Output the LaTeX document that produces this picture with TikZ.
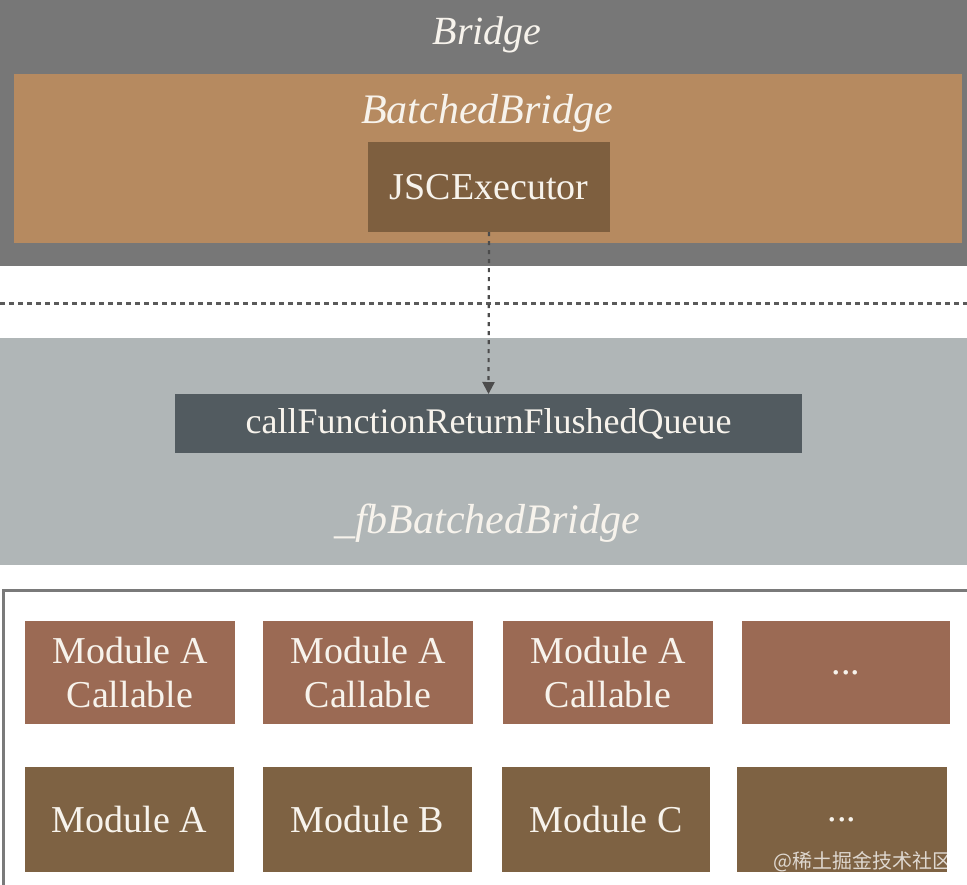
\documentclass[tikz,border=0pt]{standalone}
\usepackage{fontspec}
\setmainfont{Liberation Serif}
\newfontfamily\cjk{Noto Sans CJK SC}
\usetikzlibrary{arrows.meta}
\definecolor{bridgegray}{HTML}{777777}
\definecolor{batchorange}{HTML}{B68A60}
\definecolor{jscbrown}{HTML}{7E5F3F}
\definecolor{fbgray}{HTML}{B0B6B7}
\definecolor{cfslate}{HTML}{525B60}
\definecolor{callbrown}{HTML}{9B6A54}
\definecolor{modbrown}{HTML}{7E6243}
\definecolor{framegray}{HTML}{7A7A7A}
\definecolor{txtwhite}{HTML}{F7F3EC}
\definecolor{linegray}{HTML}{5A5A5A}
\begin{document}
\begin{tikzpicture}[x=1pt,y=-1pt,
  every node/.style={inner sep=0pt, outer sep=0pt},
  panel/.style={rectangle, anchor=north west, draw=none},
  lbl/.style={text=txtwhite, align=center},
  bigital/.style={lbl, font=\fontsize{42}{46}\selectfont\itshape},
  boxtxt/.style={lbl, font=\fontsize{38}{44}\selectfont},
  callbox/.style={panel, fill=callbrown, minimum width=210pt, minimum height=103pt, boxtxt},
  modbox/.style={panel, fill=modbrown, minimum width=209pt, minimum height=105pt, boxtxt}
]
\useasboundingbox (0,0) rectangle (967,884);
\clip (0,0) rectangle (967,884);
\fill[white] (0,0) rectangle (967,884);

% Bridge layer
\node[panel, fill=bridgegray, minimum width=967pt, minimum height=266pt] (bridge) at (0,0) {};
\node[bigital, font=\fontsize{40}{44}\selectfont\itshape] (bridgelbl) at (487,35) {Bridge};
\node[panel, fill=batchorange, minimum width=948pt, minimum height=169pt] (batched) at (14,74) {};
\node[bigital] (batchedlbl) at (487,113) {BatchedBridge};
\node[panel, fill=jscbrown, minimum width=242pt, minimum height=90pt,
      boxtxt, font=\fontsize{38}{44}\selectfont] (jsc) at (368,142) {JSCExecutor};

% separator
\coordinate (sepL) at (0,303);
\coordinate (sepR) at (967,303);
\draw[linegray, line width=3pt, dash pattern=on 5pt off 4pt] (sepL) -- (sepR);

% fbBatchedBridge layer
\node[panel, fill=fbgray, minimum width=967pt, minimum height=227pt] (fb) at (0,338) {};
\node[panel, fill=cfslate, minimum width=627pt, minimum height=59pt,
      boxtxt, font=\fontsize{36}{40}\selectfont] (cf) at (175,394) {callFunctionReturnFlushedQueue};
\node[bigital] (fblbl) at (487,523) {\_fbBatchedBridge};

% connector
\draw[linegray!85!black, line width=2.2pt, dash pattern=on 4pt off 5pt,
      -{Triangle[length=12pt,width=12pt]}] (jsc.south) -- (cf.north);

% modules frame
\draw[framegray, line width=3pt] (3,590) rectangle (990,910);

\node[callbox] (ca) at (25,621) {};
\node[boxtxt] at (ca.center) {Module A\\Callable};
\node[callbox] (cb) at (263,621) {};
\node[boxtxt] at (cb.center) {Module A\\Callable};
\node[callbox] (cc) at (503,621) {};
\node[boxtxt] at (cc.center) {Module A\\Callable};
\node[callbox, minimum width=208pt] (cd) at (742,621) {};
\node[boxtxt] at (cd.center) {...};

\node[modbox] (ma) at (25,767) {};
\node[boxtxt] at (ma.center) {Module A};
\node[modbox] (mb) at (263,767) {};
\node[boxtxt] at (mb.center) {Module B};
\node[modbox, minimum width=208pt] (mc) at (502,767) {};
\node[boxtxt] at (mc.center) {Module C};
\node[modbox, minimum width=210pt] (md) at (737,767) {};
\node[boxtxt] at (md.center) {...};

% watermark
\node[anchor=east, text=white, opacity=0.75, font=\cjk\fontsize{20}{22}\selectfont] (wm) at (952,862) {@稀土掘金技术社区};
\end{tikzpicture}
\end{document}
